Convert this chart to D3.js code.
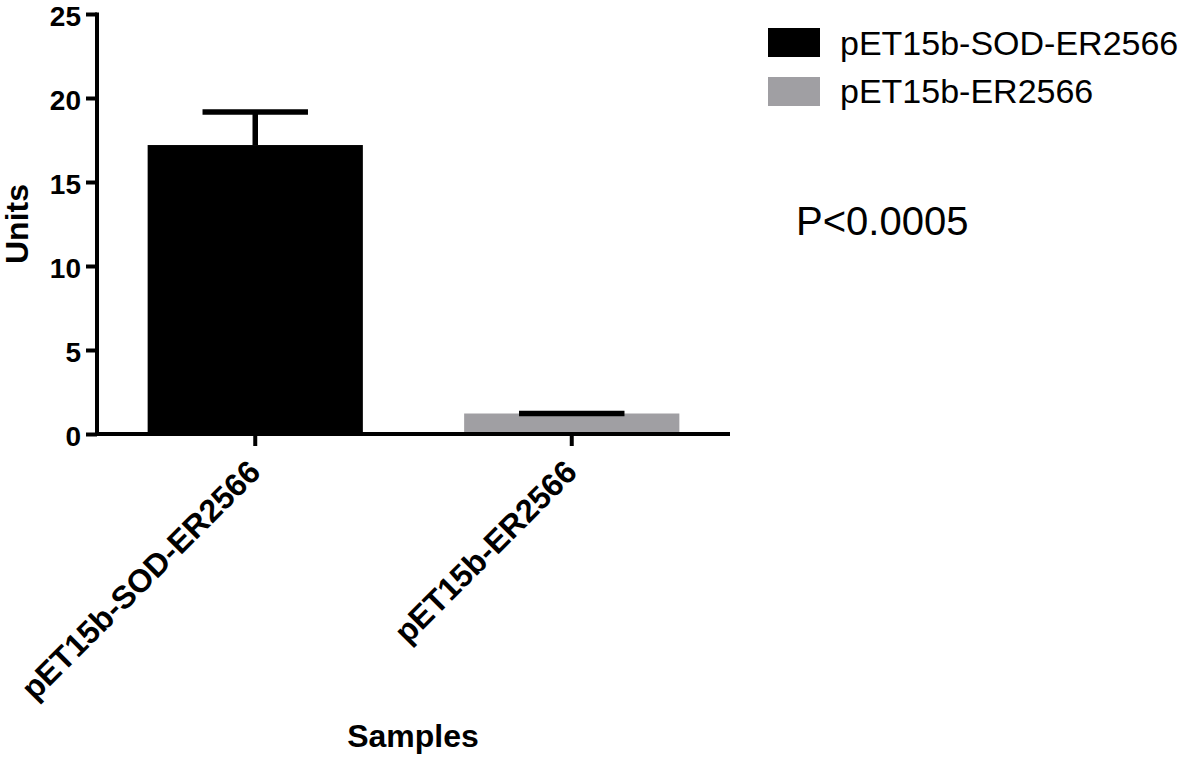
<!DOCTYPE html>
<html>
<head>
<meta charset="utf-8">
<script src="https://cdnjs.cloudflare.com/ajax/libs/d3/7.8.5/d3.min.js"></script>
<style>
  body { margin: 0; background: #fff; }
  svg { display: block; font-family: "Liberation Sans", Arial, Helvetica, sans-serif; }
</style>
</head>
<body>
<div id="container"></div>
<script>
// data
const samples = ["pET15b-SOD-ER2566", "pET15b-ER2566"];
const means = [17.2, 1.22];
const errors = [1.97, 0];
const colors = ["#000000", "#a09fa3"];
const yTicks = [0, 5, 10, 15, 20, 25];
const pText = "P<0.0005";

// dimensions
const w = 1181;
const h = 759;

const svg = d3.select("#container")
              .append("svg")
              .attr("width", w)
              .attr("height", h);

// scales
const xScale = d3.scaleBand()
                 .domain(samples)
                 .range([97, 730])
                 .paddingInner(0.32)
                 .paddingOuter(0.16);
const yScale = d3.scaleLinear()
                 .domain([0, 25])
                 .range([434, 14]);
const color = d3.scaleOrdinal().domain(samples).range(colors);

// bars
svg.selectAll("rect.bar")
   .data(samples)
   .enter()
   .append("rect")
   .attr("class", "bar")
   .attr("x", (d) => xScale(d))
   .attr("y", (d, i) => yScale(means[i]))
   .attr("width", xScale.bandwidth())
   .attr("height", (d, i) => yScale(0) - yScale(means[i]))
   .attr("fill", (d) => color(d));

// error bars (mean + SEM, upper only)
const capW = xScale.bandwidth() * 0.49;
samples.forEach(function(d, i){
    const cx = xScale(d) + xScale.bandwidth() / 2;
    if (errors[i] > 0) {
        svg.append("line")
           .attr("x1", cx).attr("x2", cx)
           .attr("y1", yScale(means[i]))
           .attr("y2", yScale(means[i] + errors[i]))
           .attr("stroke", "#000")
           .attr("stroke-width", 5.5);
    }
    svg.append("line")
       .attr("x1", cx - capW / 2).attr("x2", cx + capW / 2)
       .attr("y1", yScale(means[i] + errors[i]))
       .attr("y2", yScale(means[i] + errors[i]))
       .attr("stroke", "#000")
       .attr("stroke-width", 5.5);
});

// axes
const yAxis = d3.axisLeft(yScale)
                .tickValues(yTicks)
                .tickSize(11)
                .tickPadding(5)
                .tickSizeOuter(0);
const gy = svg.append("g")
   .attr("transform", "translate(97, 0)")
   .call(yAxis);
gy.select(".domain").attr("stroke-width", 4).attr("d", "M0," + (yScale(25) - 1.5) + "V" + (yScale(0) + 2));
gy.selectAll(".tick line").attr("stroke-width", 4);
gy.selectAll(".tick text")
  .attr("font-size", "28px")
  .attr("font-weight", "bold")
  .attr("font-family", "Liberation Sans, Arial, sans-serif")
  .attr("dy", "0.42em")
  .attr("fill", "#000");

const xAxis = d3.axisBottom(xScale)
                .tickSize(12)
                .tickSizeOuter(0)
                .tickFormat("");
const gx = svg.append("g")
   .attr("transform", "translate(0, 434)")
   .call(xAxis);
gx.select(".domain").attr("stroke-width", 4).attr("d", "M95,0H730");
gx.selectAll(".tick line").attr("stroke-width", 4);

// rotated category labels
svg.selectAll("text.cat")
   .data(samples)
   .enter()
   .append("text")
   .attr("class", "cat")
   .attr("transform", (d) => "translate(" + (xScale(d) + xScale.bandwidth() / 2 + 7) + ", 474)rotate(-45)")
   .attr("text-anchor", "end")
   .attr("font-size", "32px")
   .attr("font-weight", "bold")
   .text((d) => d);

// axis titles
svg.append("text")
   .attr("transform", "translate(28, 224)rotate(-90)")
   .attr("text-anchor", "middle")
   .attr("font-size", "32px")
   .attr("font-weight", "bold")
   .text("Units");

svg.append("text")
   .attr("x", 413)
   .attr("y", 747)
   .attr("text-anchor", "middle")
   .attr("font-size", "32px")
   .attr("font-weight", "bold")
   .text("Samples");

// legend
samples.forEach(function(d, i){
    svg.append("rect")
       .attr("x", 768)
       .attr("y", 28 + i * 49)
       .attr("width", 52)
       .attr("height", 29)
       .attr("fill", color(d));

    svg.append("text")
       .attr("x", 840)
       .attr("y", 55 + i * 48)
       .attr("font-size", "34px")
       .text(d);
});

// p-value annotation
svg.append("text")
   .attr("x", 796)
   .attr("y", 235)
   .attr("font-size", "40px")
   .text(pText);
</script>
</body>
</html>
